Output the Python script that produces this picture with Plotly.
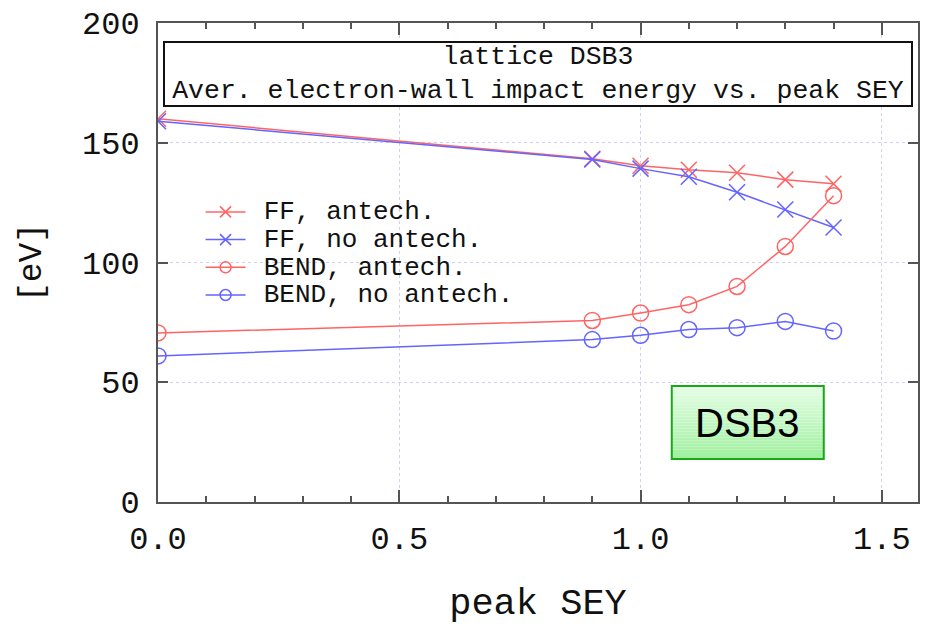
import plotly.graph_objects as go

# peak SEY values and average electron-wall impact energy [eV]
sey = [0.0, 0.9, 1.0, 1.1, 1.2, 1.3, 1.4]
ff_antech = [160.0, 143.3, 140.4, 138.7, 137.5, 134.6, 132.9]
ff_no_antech = [159.0, 143.0, 139.2, 135.8, 129.3, 122.1, 114.6]
bend_antech = [70.6, 75.8, 78.9, 82.4, 90.0, 106.7, 127.9]
bend_no_antech = [61.0, 67.8, 69.6, 72.0, 72.8, 75.4, 71.4]

series_names = ["FF, antech.", "FF, no antech.", "BEND, antech.", "BEND, no antech."]
x_ticks = [0.0, 0.5, 1.0, 1.5]
x_tick_text = ["0.0", "0.5", "1.0", "1.5"]
y_ticks = [0, 50, 100, 150, 200]

RED = "#ff6464"
BLUE = "#6464ff"
MONO = "Liberation Mono, Courier New, monospace"

fig = go.Figure()

styles = [
    (ff_antech, RED, "x-thin-open"),
    (ff_no_antech, BLUE, "x-thin-open"),
    (bend_antech, RED, "circle-open"),
    (bend_no_antech, BLUE, "circle-open"),
]
for name, (vals, col, sym) in zip(series_names, styles):
    # data curve
    fig.add_trace(go.Scatter(
        x=sey, y=vals, mode="lines+markers", name=name, showlegend=False,
        line=dict(color=col, width=1.5),
        marker=dict(symbol=sym, size=16, color=col, line=dict(color=col, width=1.5)),
    ))
    # legend key with smaller symbol
    fig.add_trace(go.Scatter(
        x=[None], y=[None], mode="lines+markers", hoverinfo="skip",
        name=("<span style='font-size:22px'>&nbsp;</span>"
              "<span style='font-size:26px'>%s</span>" % name),
        line=dict(color=col, width=1.5),
        marker=dict(symbol=sym, size=11, color=col, line=dict(color=col, width=1.5)),
    ))

axis_common = dict(
    showline=True, linecolor="#555555", linewidth=2, mirror="ticks",
    ticks="inside", tickcolor="#555555", tickwidth=2,
    showgrid=True, gridcolor="#cfcff2", griddash="dot", gridwidth=1,
    zeroline=False, automargin=False,
    tickfont=dict(family=MONO, size=32, color="#111111"),
)

fig.update_xaxes(
    range=[0, 1.575], tickvals=x_ticks, ticktext=x_tick_text, ticklen=12,
    ticklabelstandoff=7,
    minor=dict(dtick=0.1, ticks="inside", ticklen=6, tickcolor="#555555", tickwidth=2, showgrid=False),
    title=dict(text="peak SEY", font=dict(family=MONO, size=37, color="#111111"), standoff=38),
    **axis_common,
)
fig.update_yaxes(
    range=[0, 200], tickvals=y_ticks, ticklen=10, ticklabelstandoff=10,
    title=dict(text="[eV]", font=dict(family=MONO, size=33, color="#111111"), standoff=30),
    **axis_common,
)

# title box inside the plot
fig.add_annotation(
    xref="paper", yref="paper", x=0.5, y=0.962, xanchor="center", yanchor="top",
    text="lattice DSB3<br>Aver. electron-wall impact energy vs. peak SEY",
    showarrow=False, align="center",
    font=dict(family=MONO, size=26.5, color="#111111"),
    bgcolor="white", bordercolor="#111111", borderwidth=2, borderpad=2,
    width=742, height=58,
)

# green label box with a vertical gradient
x0, x1, y0, y1 = 0.676, 0.876, 0.0898, 0.242
n = 24
top = (228, 253, 228)
bot = (160, 240, 160)
for i in range(n):
    t = i / (n - 1)
    c = tuple(int(round(bot[k] + (top[k] - bot[k]) * t)) for k in range(3))
    fig.add_shape(
        type="rect", xref="paper", yref="paper",
        x0=x0, x1=x1, y0=y0 + (y1 - y0) * i / n, y1=y0 + (y1 - y0) * (i + 1) / n,
        fillcolor="rgb(%d,%d,%d)" % c, line=dict(width=0), layer="above",
    )
fig.add_shape(type="rect", xref="paper", yref="paper", x0=x0, x1=x1, y0=y0, y1=y1,
              line=dict(color="#1aa81a", width=2), fillcolor="rgba(0,0,0,0)", layer="above")
fig.add_annotation(
    xref="paper", yref="paper", x=(x0 + x1) / 2, y=(y0 + y1) / 2,
    xanchor="center", yanchor="middle",
    text="DSB3", showarrow=False,
    font=dict(family="Liberation Sans, Arial, sans-serif", size=40, color="black"),
)

fig.update_layout(
    width=926, height=625,
    margin=dict(l=158, r=8, t=23, b=123),
    plot_bgcolor="white", paper_bgcolor="white",
    showlegend=True,
    legend=dict(
        x=0.056, y=0.645, xanchor="left", yanchor="top",
        bgcolor="rgba(0,0,0,0)", borderwidth=0,
        font=dict(family=MONO, size=19, color="#111111"),
        itemwidth=40,
    ),
)

fig.write_html("out.html")
